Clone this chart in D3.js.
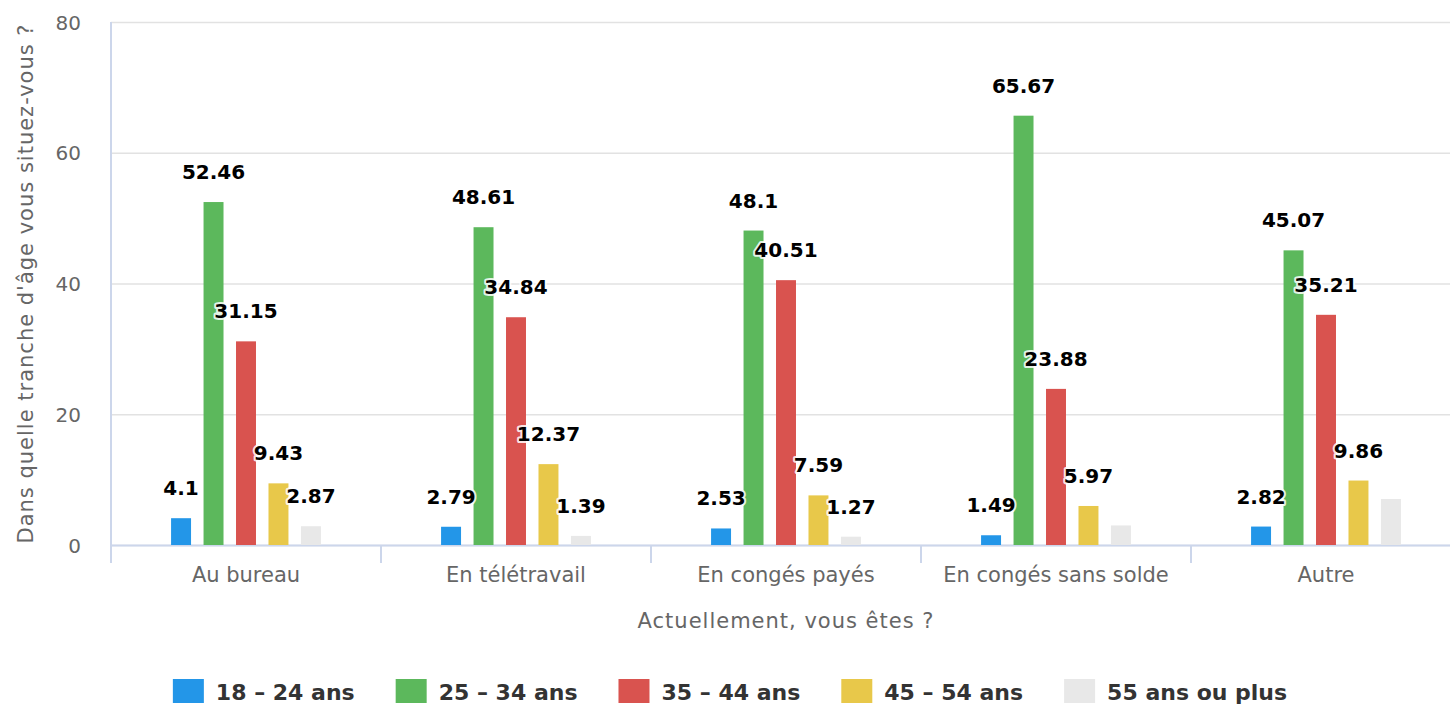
<!DOCTYPE html>
<html>
<head>
<meta charset="utf-8">
<script src="https://cdn.jsdelivr.net/npm/d3@7"></script>
<style>
  body { margin: 0; background: #fff; }
  text { font-family: "DejaVu Sans", Verdana, sans-serif; }
</style>
</head>
<body>
<div id="chart"></div>
<script>
// data
var categories = ["Au bureau", "En télétravail", "En congés payés", "En congés sans solde", "Autre"];
var seriesNames = ["18 – 24 ans", "25 – 34 ans", "35 – 44 ans", "45 – 54 ans", "55 ans ou plus"];
var age18_24 = [4.1, 2.79, 2.53, 1.49, 2.82];
var age25_34 = [52.46, 48.61, 48.1, 65.67, 45.07];
var age35_44 = [31.15, 34.84, 40.51, 23.88, 35.21];
var age45_54 = [9.43, 12.37, 7.59, 5.97, 9.86];
var age55plus = [2.87, 1.39, 1.27, 2.99, 7.04];
var yTicks = [0, 20, 40, 60, 80];
var colors = ["#2396e8", "#5cb85c", "#d9534f", "#e8c84a", "#e8e8e8"];

var svgWidth = 1450;
var svgHeight = 705;

var margin = { top: 22, left: 111 };
var chartWidth = 1350;   // plot runs past the right edge, as in the picture
var chartHeight = 523;

var svg = d3.select("#chart")
    .append("svg")
    .attr("width", svgWidth)
    .attr("height", svgHeight);

var series = [age18_24, age25_34, age35_44, age45_54, age55plus];

var xScale = d3.scaleBand()
    .domain(categories)
    .range([margin.left, margin.left + chartWidth]);

var xSub = d3.scaleBand()
    .domain(seriesNames)
    .range([0, xScale.bandwidth()])
    .paddingInner(0.385)
    .paddingOuter(1.85);

var yScale = d3.scaleLinear()
    .domain([0, 80])
    .range([margin.top + chartHeight, margin.top]);

/// y grid + tick labels
var yAxis = svg.append("g")
    .attr("transform", `translate(${margin.left}, 0)`)
    .call(d3.axisLeft(yScale).tickValues(yTicks).tickSize(-chartWidth).tickPadding(30));

yAxis.select(".domain").remove();
yAxis.selectAll(".tick line")
    .attr("stroke", "#e2e2e2")
    .attr("stroke-width", 1.5);
yAxis.selectAll(".tick text")
    .attr("fill", "#666")
    .style("font-size", "20px")
    .attr("dy", "0.35em");

/// left axis line
svg.append("line")
    .attr("x1", margin.left).attr("x2", margin.left)
    .attr("y1", margin.top).attr("y2", margin.top + chartHeight)
    .attr("stroke", "#ccd6eb")
    .attr("stroke-width", 2);

/// x axis
var xAxis = svg.append("g")
    .attr("transform", `translate(0, ${margin.top + chartHeight})`)
    .call(d3.axisBottom(xScale).tickSize(0).tickPadding(22));

xAxis.select(".domain")
    .attr("stroke", "#ccd6eb")
    .attr("stroke-width", 2);
xAxis.selectAll(".tick text")
    .attr("fill", "#666")
    .style("font-size", "21px");

// ticks sit between categories
var boundaries = categories.map(c => xScale(c)).concat([xScale.range()[1]]);
xAxis.selectAll(".bound")
    .data(boundaries)
    .enter()
    .append("line")
    .attr("class", "bound")
    .attr("x1", d => d).attr("x2", d => d)
    .attr("y1", 0).attr("y2", 18)
    .attr("stroke", "#ccd6eb")
    .attr("stroke-width", 2);

/// axis titles
svg.append("text")
    .attr("x", margin.left + chartWidth / 2)
    .attr("y", 628)
    .attr("text-anchor", "middle")
    .attr("fill", "#666")
    .style("font-size", "21px")
    .style("letter-spacing", "1px")
    .text("Actuellement, vous êtes ?");

svg.append("text")
    .attr("transform", `translate(33, ${margin.top + chartHeight / 2}) rotate(-90)`)
    .attr("text-anchor", "middle")
    .attr("fill", "#666")
    .style("font-size", "21px")
    .style("letter-spacing", "1px")
    .text("Dans quelle tranche d'âge vous situez-vous ?");

/// bars
var groups = svg.selectAll(".serie")
    .data(series)
    .enter()
    .append("g")
    .attr("class", "serie")
    .attr("fill", (d, i) => colors[i]);

groups.each(function (vals, si) {
    d3.select(this).selectAll("rect")
        .data(vals)
        .enter()
        .append("rect")
        .attr("x", (d, ci) => xScale(categories[ci]) + xSub(seriesNames[si]))
        .attr("y", d => yScale(d))
        .attr("width", xSub.bandwidth())
        .attr("height", d => yScale(0) - yScale(d));
});

/// data labels, hidden when they collide with an earlier one
var labelLayer = svg.append("g");
var shown = [];
series.forEach(function (vals, si) {
    vals.forEach(function (v, ci) {
        var t = labelLayer.append("text")
            .attr("x", xScale(categories[ci]) + xSub(seriesNames[si]) + xSub.bandwidth() / 2)
            .attr("y", yScale(v) - 23)
            .attr("text-anchor", "middle")
            .attr("fill", "#000")
            .attr("stroke", "rgba(255,255,255,0.85)")
            .attr("stroke-width", 4)
            .attr("stroke-linejoin", "round")
            .attr("paint-order", "stroke")
            .style("font-size", "20px")
            .style("font-weight", "bold")
            .text(v);
        var b = t.node().getBBox();
        var box = { x0: b.x - 3, x1: b.x + b.width + 3, y0: b.y - 3, y1: b.y + b.height + 3 };
        var hit = shown.some(o => box.x0 < o.x1 && box.x1 > o.x0 && box.y0 < o.y1 && box.y1 > o.y0);
        if (hit) t.remove();
        else shown.push(box);
    });
});

/// legend
var legend = svg.append("g");
var lx = 0;
seriesNames.forEach(function (name, i) {
    var item = legend.append("g").attr("transform", `translate(${lx}, 0)`);
    item.append("rect")
        .attr("x", 0).attr("y", 679)
        .attr("width", 31).attr("height", 24)
        .attr("fill", colors[i]);
    var t = item.append("text")
        .attr("x", 43).attr("y", 700)
        .attr("fill", "#333")
        .style("font-size", "22px")
        .style("font-weight", "bold")
        .text(name);
    lx += 43 + t.node().getComputedTextLength() + 41;
});
var legendWidth = lx - 41;
legend.attr("transform", `translate(${730 - legendWidth / 2}, 0)`);
</script>
</body>
</html>
